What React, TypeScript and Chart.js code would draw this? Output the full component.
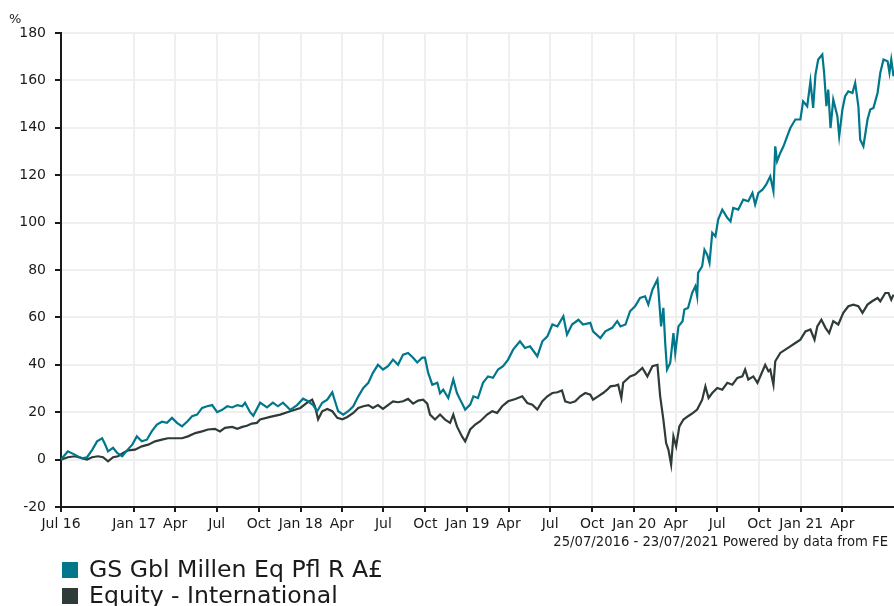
import React, { useEffect, useRef } from "react";
import { Chart, registerables } from "chart.js";

Chart.register(...registerables);

const startDate = "2016-07-25";
const endDate = "2021-07-23";

const tickDates = [
  "2016-07-25", "2017-01-01", "2017-04-01", "2017-07-01", "2017-10-01",
  "2018-01-01", "2018-04-01", "2018-07-01", "2018-10-01",
  "2019-01-01", "2019-04-01", "2019-07-01", "2019-10-01",
  "2020-01-01", "2020-04-01", "2020-07-01", "2020-10-01",
  "2021-01-01", "2021-04-01",
];
const tickLabels = [
  "Jul 16", "Jan 17", "Apr", "Jul", "Oct",
  "Jan 18", "Apr", "Jul", "Oct",
  "Jan 19", "Apr", "Jul", "Oct",
  "Jan 20", "Apr", "Jul", "Oct",
  "Jan 21", "Apr",
];

const yTicks = [-20, 0, 20, 40, 60, 80, 100, 120, 140, 160, 180];

const seriesNames = ["GS Gbl Millen Eq Pfl R A£", "Equity - International"];
const seriesColors = ["#00778a", "#2e3b38"];

// days since 25/07/2016
const fundDays = [
  0, 15, 31, 46, 57, 68, 79, 90, 96, 103, 114, 123, 134, 145, 156, 166, 177, 188, 199, 210,
  221, 232, 243, 254, 265, 276, 287, 298, 309, 320, 331, 342, 353, 364, 375, 386, 397, 403, 414, 421,
  436, 451, 464, 475, 486, 502, 517, 530, 541, 552, 561, 572, 583, 594, 600, 607, 618, 629, 640, 651,
  662, 673, 683, 694, 705, 716, 727, 738, 749, 760, 771, 780, 791, 797, 804, 813, 824, 830, 837, 848,
  859, 867, 874, 885, 896, 903, 913, 924, 935, 946, 957, 968, 979, 990, 1005, 1016, 1027, 1043, 1054, 1065,
  1076, 1087, 1100, 1108, 1119, 1133, 1143, 1159, 1165, 1181, 1192, 1207, 1218, 1225, 1236, 1246, 1257, 1268, 1279, 1286,
  1295, 1306, 1308, 1314, 1319, 1323, 1327, 1334, 1341, 1345, 1352, 1361, 1365, 1373, 1382, 1389, 1393, 1395, 1404, 1409,
  1415, 1420, 1426, 1433, 1439, 1448, 1459, 1466, 1472, 1483, 1494, 1505, 1514, 1520, 1527, 1536, 1544, 1553, 1560, 1564,
  1568, 1575, 1582, 1590, 1597, 1608, 1619, 1625, 1634, 1641, 1647, 1652, 1658, 1667, 1671, 1676, 1680, 1685, 1691, 1700,
  1704, 1711, 1717, 1724, 1733, 1739, 1746, 1750, 1757, 1766, 1772, 1779, 1788, 1794, 1801, 1810, 1814, 1818, 1823,
];
const fundValues = [
  0, 3.5, 2, 0.5, 1, 4, 7.7, 9, 6.7, 3.5, 5, 2.8, 1.4, 4, 6.3, 9.8, 7.7, 8.4, 12, 14.8,
  16, 15.5, 17.6, 15.5, 14, 16, 18.3, 19, 21.8, 22.5, 23, 20, 21, 22.5, 22, 23, 22.5, 24, 20, 18.5,
  24, 22, 24, 22.5, 24, 21, 23, 25.7, 24.6, 23, 20.4, 24, 25.3, 28.4, 24.6, 20.4, 19, 20.4, 22.5, 26.7,
  30.2, 32.4, 36.6, 40, 38, 39.4, 42.2, 40, 44.3, 45, 43, 41, 43, 43, 36.6, 31.6, 32.4, 28, 29.5, 26,
  33.8, 28.1, 25.3, 21.1, 23.2, 26.7, 26, 32.4, 35.1, 34.5, 38, 39.4, 42.2, 46.4, 49.9, 47.1, 47.8, 43.6, 49.9, 52,
  57, 56.2, 60.5, 52.7, 57, 59, 57, 57.7, 54.1, 51.3, 54.1, 55.6, 58.4, 56.2, 57, 62.6, 64.7, 68.2, 68.9, 65.4,
  71.7, 76, 71.7, 56.2, 64, 49.2, 38, 40.8, 53.4, 45, 56.2, 58.4, 63.3, 64, 70.3, 73.1, 68.9, 78.8, 81.6, 88.6,
  86.5, 83, 95.7, 94.2, 101.3, 105.5, 102, 100.5, 106.2, 105.5, 109.7, 109, 112.5, 107.6, 112.5, 113.9, 116, 119.5, 113.2, 132.2,
  125.9, 129.4, 132.2, 136.4, 139.9, 143.5, 143.5, 151.2, 149.1, 159.6, 148.4, 162.4, 168.8, 170.9, 163.2, 149.1, 156.1, 139.9, 151.9, 144.9,
  136.4, 147.7, 153.3, 155.4, 154.7, 158.9, 149.1, 135, 132.2, 143.5, 147.7, 148.4, 154.7, 163.2, 168.8, 168.1, 163.2, 168.8, 161.7,
];

const sectorDays = [
  0, 15, 31, 46, 57, 68, 81, 92, 103, 114, 125, 136, 147, 162, 177, 191, 206, 221, 234, 250,
  265, 278, 294, 309, 322, 337, 348, 359, 375, 386, 397, 407, 418, 429, 436, 458, 480, 502, 524, 539,
  550, 556, 563, 572, 583, 594, 605, 616, 627, 640, 651, 662, 673, 683, 694, 705, 716, 727, 738, 749,
  760, 771, 782, 793, 802, 808, 819, 830, 841, 852, 859, 867, 878, 885, 896, 907, 918, 933, 944, 955,
  966, 979, 995, 1010, 1021, 1032, 1043, 1054, 1065, 1076, 1087, 1097, 1104, 1115, 1126, 1137, 1148, 1159, 1165, 1176,
  1187, 1196, 1203, 1214, 1220, 1227, 1231, 1246, 1257, 1273, 1284, 1295, 1306, 1312, 1319, 1325, 1330, 1336, 1341, 1347,
  1354, 1363, 1373, 1384, 1393, 1404, 1411, 1418, 1426, 1437, 1448, 1459, 1470, 1481, 1492, 1498, 1505, 1516, 1525, 1536,
  1542, 1549, 1553, 1560, 1564, 1575, 1586, 1597, 1608, 1619, 1630, 1641, 1650, 1656, 1665, 1674, 1682, 1691, 1702, 1713,
  1724, 1735, 1746, 1755, 1766, 1776, 1788, 1794, 1805, 1812, 1818, 1823,
];
const sectorValues = [
  0, 1, 1.4, 0.6, 0, 1, 1.4, 1, -0.7, 1, 1.4, 2.8, 3.9, 4.2, 5.6, 6.3, 7.7, 8.4, 9, 9,
  9, 9.8, 11.2, 11.9, 12.7, 13, 11.9, 13.4, 13.8, 13, 13.8, 14.3, 15.2, 15.5, 16.9, 18, 19, 20.4, 21.8, 24,
  25.3, 22.5, 17, 20.4, 21.4, 20.4, 17.6, 17, 18, 19.7, 21.8, 22.5, 23, 21.8, 23, 21.4, 23, 24.6, 24.2, 24.6,
  25.6, 23.6, 24.9, 25.3, 23.6, 19, 16.9, 19, 16.9, 15.5, 19, 14, 9.8, 7.7, 12.7, 14.8, 16.2, 19, 20.4, 19.7,
  22.5, 24.6, 25.6, 26.7, 23.9, 23.2, 21.1, 24.6, 26.7, 28.1, 28.4, 29.2, 24.6, 23.9, 24.6, 26.7, 28.1, 27.4, 25.3, 26.7,
  28.1, 29.5, 30.9, 31.2, 31.6, 26, 32.4, 35.1, 35.9, 38.7, 35.1, 39.4, 40, 26.7, 16.9, 7, 4.2, -2.1, 9.8, 5.6,
  14, 16.9, 18.3, 19.7, 21.1, 25.3, 30.9, 26, 28.1, 30.2, 29.5, 32.4, 31.6, 34.5, 35.1, 38, 33.8, 35.1, 32.4, 37.3,
  40, 37.3, 38, 31.6, 41.5, 45, 46.4, 47.8, 49.2, 50.6, 54.1, 54.9, 50.6, 56.2, 59, 55.6, 53.4, 58.4, 57, 61.9,
  64.7, 65.4, 64.7, 61.9, 65.4, 66.8, 68.2, 66.8, 70.3, 70.3, 67.5, 69.6,
];

const FONT = "'DejaVu Sans', Verdana, sans-serif";

function dayOffset(d: string): number {
  const s = Date.UTC(2016, 6, 25);
  const [y, m, dd] = d.split("-").map(Number);
  return Math.round((Date.UTC(y, m - 1, dd) - s) / 86400000);
}

export default function App() {
  const ref = useRef<HTMLCanvasElement | null>(null);

  useEffect(() => {
    document.body.style.margin = "0";
    const canvas = ref.current;
    if (!canvas) return;
    const tickDays = tickDates.map(dayOffset);
    const xMin = dayOffset(startDate);
    const xMax = dayOffset(endDate);

    const chart = new Chart(canvas, {
      type: "line",
      data: {
        datasets: [
          {
            label: seriesNames[0],
            data: fundDays.map((d, i) => ({ x: d, y: fundValues[i] })),
            borderColor: seriesColors[0],
            backgroundColor: seriesColors[0],
            borderWidth: 2.2,
            pointRadius: 0,
            tension: 0,
          },
          {
            label: seriesNames[1],
            data: sectorDays.map((d, i) => ({ x: d, y: sectorValues[i] })),
            borderColor: seriesColors[1],
            backgroundColor: seriesColors[1],
            borderWidth: 2.2,
            pointRadius: 0,
            tension: 0,
          },
        ],
      },
      options: {
        responsive: false,
        animation: false,
        devicePixelRatio: 1,
        layout: { padding: { top: 33, left: 0, right: 0, bottom: 0 } },
        plugins: {
          legend: { display: false },
          tooltip: { enabled: false },
        },
        scales: {
          x: {
            type: "linear",
            min: xMin,
            max: xMax,
            afterBuildTicks: (scale: any) => {
              scale.ticks = tickDays.map((v) => ({ value: v }));
            },
            afterFit: (scale: any) => {
              scale.height = 99;
            },
            ticks: {
              autoSkip: false,
              maxRotation: 0,
              minRotation: 0,
              padding: 4,
              color: "#1a1a1a",
              font: { family: FONT, size: 14 },
              callback: (_v: any, i: number) => tickLabels[i],
            },
            grid: {
              color: "#efefef",
              lineWidth: 2,
              tickColor: "#1a1a1a",
              tickLength: 5,
              tickWidth: 2,
            },
            border: { color: "#1a1a1a", width: 2 },
          },
          y: {
            min: -20,
            max: 180,
            afterBuildTicks: (scale: any) => {
              scale.ticks = yTicks.map((v) => ({ value: v }));
            },
            afterFit: (scale: any) => {
              scale.width = 61;
            },
            ticks: {
              padding: 9,
              color: "#1a1a1a",
              font: { family: FONT, size: 14 },
            },
            grid: {
              color: "#efefef",
              lineWidth: 2,
              tickColor: "#1a1a1a",
              tickLength: 6,
              tickWidth: 2,
            },
            border: { color: "#1a1a1a", width: 2 },
          },
        },
      },
    } as any);

    return () => chart.destroy();
  }, []);

  const textStyle: React.CSSProperties = {
    position: "absolute",
    fontFamily: FONT,
    color: "#1a1a1a",
    whiteSpace: "nowrap",
    margin: 0,
  };

  return (
    <div style={{ position: "relative", width: 894, height: 606, overflow: "hidden", background: "#fff" }}>
      <canvas ref={ref} width={894} height={606} style={{ position: "absolute", left: 0, top: 0, width: 894, height: 606 }} />
      <div style={{ ...textStyle, left: 9, top: 11, fontSize: 13, lineHeight: "15px" }}>%</div>
      <div style={{ ...textStyle, right: 6, top: 534, fontSize: 13.2, lineHeight: "15px" }}>
        25/07/2016 - 23/07/2021 Powered by data from FE
      </div>
      {seriesNames.map((name, i) => (
        <div key={name} style={{ position: "absolute", left: 62, top: 556 + i * 26, height: 26, display: "flex", alignItems: "center" }}>
          <span style={{ display: "inline-block", width: 16, height: 16, background: seriesColors[i], marginRight: 11, marginTop: 2 }} />
          <span style={{ fontFamily: FONT, fontSize: 23.6, lineHeight: "26px", color: "#1a1a1a", whiteSpace: "nowrap" }}>{name}</span>
        </div>
      ))}
    </div>
  );
}
